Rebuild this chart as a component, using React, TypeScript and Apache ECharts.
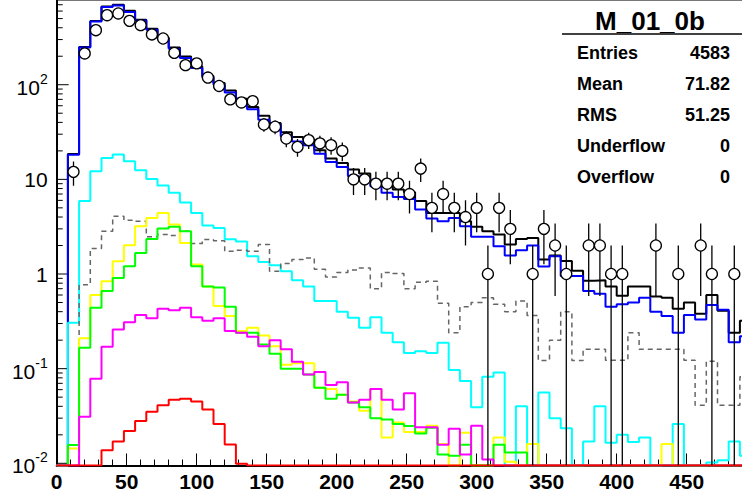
import React, { useEffect, useRef } from 'react';
import * as echarts from 'echarts';

// ---- histogram definition (bin width in x units) ----
const binWidth = 8;
const yMin = 0.00948;
const yMax = 776;
const xMin = 0;
const xMax = 500;

// ---- series values, one per bin (0 = empty bin) ----
const blackSum = [
  0, 18.5, 250, 470, 670, 700, 604, 485, 390, 316,
  248, 199, 156, 124, 104, 87, 71, 58, 47, 39.4,
  31.4, 28, 26.3, 20.3, 16.6, 14.9, 12.7, 11.5, 9.5, 9.3,
  7.8, 7.3, 5.9, 4.4, 4.4, 4.4, 3.6, 3.15, 2.83, 2.61,
  2.05, 2.35, 2.4, 1.42, 1.57, 1.37, 1.08, 0.85, 0.86, 0.74,
  0.59, 0.74, 0.74, 0.58, 0.56, 0.43, 0.5, 0.38, 0.6, 0.41,
  0.24, 0.32,
];
const blueMain = [
  0, 18.2, 248, 466, 661, 687, 585, 477, 380, 306,
  240, 191, 150, 120, 100, 83, 68, 55, 42.7, 37.9,
  28.5, 25.2, 22.9, 18.7, 15.3, 13.5, 10.8, 10.2, 8.45, 7.2,
  6.5, 6.2, 4.8, 3.85, 3.6, 3.9, 3.2, 2.47, 2.47, 1.96,
  1.57, 1.78, 2.0, 1.2, 1.54, 0.95, 0.95, 0.66, 0.62, 0.45,
  0.48, 0.5, 0.56, 0.4, 0.36, 0.24, 0.37, 0.33, 0.47, 0.42,
  0.19, 0.22,
];
const cyanBkg = [
  0, 0.305, 5.9, 12.2, 16.8, 18.3, 15.5, 12.5, 10.1, 8.6,
  7.2, 5.7, 4.4, 3.25, 3.07, 2.33, 2.2, 1.54, 1.34, 1.24,
  1.07, 0.86, 0.74, 0.52, 0.52, 0.4, 0.345, 0.27, 0.35, 0.24,
  0.19, 0.146, 0.153, 0.146, 0.188, 0.097, 0.074, 0.039, 0.082, 0.091,
  0, 0.04, 0, 0.056, 0.03, 0.0235, 0, 0.017, 0.04, 0.0165,
  0.02, 0.0168, 0.0187, 0, 0, 0.026, 0, 0, 0.0102, 0.0108,
  0.017, 0.012,
];
const dashedBkg = [
  0, 0, 0.77, 1.86, 2.83, 4.07, 3.7, 3.6, 2.47, 2.61,
  2.55, 2.83, 2.1, 2.31, 2.24, 1.74, 1.78, 1.74, 2.05, 1.07,
  1.29, 1.42, 1.48, 1.12, 0.93, 1.04, 1.1, 1.16, 0.7, 1.04,
  1.01, 0.7, 0.82, 0.84, 0.49, 0.24, 0.45, 0.5, 0.56, 0.48,
  0.4, 0.52, 0.365, 0.122, 0.2, 0.4, 0.122, 0.16, 0.16, 0.123,
  0.123, 0.24, 0.16, 0.16, 0.16, 0.16, 0.123, 0.041, 0.12, 0.041,
  0.041, 0.082,
];
const yellowBkg = [
  0, 0.0143, 0.21, 0.6, 0.84, 1.36, 2.01, 3.2, 3.9, 4.4,
  3.33, 2.13, 1.26, 0.74, 0.46, 0.36, 0.25, 0.27, 0.224, 0.173,
  0.11, 0.114, 0.114, 0.063, 0.061, 0.053, 0.045, 0.036, 0.061, 0.0187,
  0.027, 0.0214, 0.0214, 0.025, 0.016, 0, 0.021, 0, 0, 0.0187,
  0.0104, 0, 0.016, 0, 0, 0, 0, 0, 0, 0,
  0, 0, 0, 0, 0.016, 0, 0, 0, 0, 0,
  0, 0,
];
const greenBkg = [
  0, 0.0156, 0.166, 0.44, 0.66, 0.91, 1.21, 1.67, 2.35, 3.02,
  3.15, 2.83, 1.21, 0.74, 0.72, 0.45, 0.24, 0.24, 0.18, 0.144,
  0.1, 0.1, 0.087, 0.063, 0.048, 0.053, 0.044, 0.039, 0.03, 0.029,
  0.026, 0.0248, 0.0207, 0.0238, 0.0124, 0.012, 0.0157, 0, 0, 0.0157,
  0.013, 0.013, 0, 0, 0, 0, 0, 0, 0, 0,
  0, 0, 0, 0, 0, 0, 0, 0, 0, 0,
  0, 0,
];
const magentaBkg = [
  0, 0, 0.031, 0.078, 0.17, 0.26, 0.31, 0.37, 0.34, 0.43,
  0.415, 0.44, 0.35, 0.32, 0.34, 0.25, 0.24, 0.217, 0.173, 0.2,
  0.16, 0.118, 0.087, 0.092, 0.067, 0.072, 0.044, 0.047, 0.061, 0.047,
  0.037, 0.055, 0.024, 0.024, 0.0157, 0.0232, 0.0124, 0.025, 0.011, 0,
  0, 0, 0, 0, 0, 0, 0, 0, 0, 0,
  0, 0, 0, 0, 0, 0, 0, 0, 0, 0,
  0, 0,
];
const redBkg = [
  0, 0, 0, 0, 0.0137, 0.017, 0.022, 0.028, 0.035, 0.041,
  0.047, 0.048, 0.045, 0.037, 0.026, 0.0158, 0.0099, 0, 0, 0,
  0, 0, 0, 0, 0, 0, 0, 0, 0, 0,
  0, 0, 0, 0, 0, 0, 0, 0, 0, 0,
  0, 0, 0, 0, 0, 0, 0, 0, 0, 0,
  0, 0, 0, 0, 0, 0, 0, 0, 0, 0,
  0, 0,
];
const dataCounts = [
  0, 12, 214, 377, 543, 566, 473, 426, 340, 308,
  217, 161, 168, 119, 97, 70, 65, 67, 38, 36,
  27, 22, 26, 24, 23, 20, 10, 10, 9, 9,
  9, 7, 13, 5, 7, 5, 4, 5, 1, 5,
  3, 0, 1, 3, 2, 1, 0, 2, 2, 1,
  1, 0, 0, 2, 0, 1, 0, 2, 1, 0,
  1, 0,
];

// ---- texts ----
const statsTitle = 'M_01_0b';
const statsLabels = ['Entries', 'Mean', 'RMS', 'Underflow', 'Overflow'];
const statsValues = ['4583', '71.82', '51.25', '0', '0'];
const yDecades = [-2, -1, 0, 1, 2];

const FONT = "'Liberation Sans', Arial, Helvetica, sans-serif";

function stepPoints(vals: number[]) {
  const pts: number[][] = [];
  vals.forEach((v, i) => {
    const y = v > 0 ? v : yMin;
    pts.push([i * binWidth, y]);
    pts.push([(i + 1) * binWidth, y]);
  });
  return pts;
}

function histSeries(name: string, vals: number[], color: string, width: number, dashed?: boolean) {
  return {
    name,
    type: 'line',
    data: stepPoints(vals),
    showSymbol: false,
    symbol: 'none',
    clip: true,
    lineStyle: { color, width, type: dashed ? [5, 4] : 'solid' },
    emphasis: { disabled: true },
  };
}

export default function App() {
  const ref = useRef<HTMLDivElement>(null);
  useEffect(() => {
    if (!ref.current) return;
    const chart = echarts.init(ref.current, undefined, { renderer: 'svg' });

    const tickData: number[][] = [];
    for (let d = -2; d <= 2; d++) {
      for (let m = 1; m <= 9; m++) {
        const v = m * Math.pow(10, d);
        if (v >= yMin && v <= yMax) tickData.push([0, v, m === 1 ? 1 : 0]);
      }
    }

    const pointData: number[][] = [];
    const errData: number[][] = [];
    dataCounts.forEach((n, i) => {
      if (n > 0) {
        const xc = (i + 0.5) * binWidth;
        pointData.push([xc, n]);
        const e = Math.sqrt(n);
        errData.push([xc, Math.max(n - e, yMin), n + e]);
      }
    });

    const option: any = {
      animation: false,
      backgroundColor: '#ffffff',
      grid: {
        left: 56.7,
        right: -14.7,
        top: 0.5,
        bottom: 31.5,
        show: true,
        borderColor: '#777',
        borderWidth: 1,
        backgroundColor: 'transparent',
        containLabel: false,
        outerBoundsMode: 'none',
      },
      xAxis: {
        type: 'value',
        min: xMin,
        max: xMax,
        interval: 50,
        axisLine: { show: true, onZero: false, lineStyle: { color: '#000', width: 2 } },
        axisTick: { show: true, inside: true, length: 12, lineStyle: { color: '#000', width: 1 } },
        minorTick: { show: true, splitNumber: 5, length: 6, lineStyle: { color: '#000', width: 1 } },
        splitLine: { show: false },
        axisLabel: {
          color: '#000',
          fontFamily: FONT,
          fontWeight: 'bold',
          fontSize: 21,
          margin: 5,
          showMaxLabel: false,
        },
      },
      yAxis: {
        type: 'log',
        logBase: 10,
        min: yMin,
        max: yMax,
        axisLine: { show: true, lineStyle: { color: '#000', width: 2 } },
        axisTick: { show: false },
        splitLine: { show: false },
        axisLabel: {
          color: '#000',
          fontFamily: FONT,
          fontSize: 21,
          margin: 9,
          formatter: (v: number) => {
            const l = Math.round(Math.log10(v) * 1000) / 1000;
            if (!Number.isInteger(l) || yDecades.indexOf(l) < 0) return '';
            if (l === 0) return '1';
            if (l === 1) return '10';
            return '{b|10}{s|' + l + '}';
          },
          rich: {
            b: { fontSize: 21, fontFamily: FONT, color: '#000', lineHeight: 26, verticalAlign: 'bottom' },
            s: { fontSize: 14, fontFamily: FONT, color: '#000', lineHeight: 26, verticalAlign: 'top' },
          },
        },
      },
      series: [
        {
          type: 'custom',
          name: 'yticks',
          data: tickData,
          clip: false,
          silent: true,
          encode: { x: 0, y: 1 },
          renderItem: (params: any, api: any) => {
            const p = api.coord([0, api.value(1)]);
            const len = api.value(2) ? 12 : 6;
            return {
              type: 'line',
              shape: { x1: p[0], y1: p[1], x2: p[0] + len, y2: p[1] },
              style: { stroke: '#000', lineWidth: 1 },
            };
          },
          z: 1,
        },
        histSeries('sum', blackSum, '#000000', 2),
        histSeries('main', blueMain, '#0000ff', 2),
        histSeries('cyan', cyanBkg, '#00ffff', 2),
        histSeries('dashed', dashedBkg, '#666666', 1.5, true),
        histSeries('yellow', yellowBkg, '#ffff00', 2),
        histSeries('green', greenBkg, '#00ff00', 2),
        histSeries('magenta', magentaBkg, '#ff00ff', 2),
        histSeries('red', redBkg, '#ff0000', 2),
        {
          type: 'custom',
          name: 'errors',
          data: errData,
          clip: true,
          silent: true,
          encode: { x: 0, y: [1, 2] },
          renderItem: (params: any, api: any) => {
            const x = api.value(0);
            const a = api.coord([x, api.value(1)]);
            const b = api.coord([x, api.value(2)]);
            return {
              type: 'line',
              shape: { x1: a[0], y1: a[1], x2: b[0], y2: b[1] },
              style: { stroke: '#000', lineWidth: 1.3 },
            };
          },
          z: 5,
        },
        {
          type: 'scatter',
          name: 'data',
          data: pointData,
          symbol: 'circle',
          symbolSize: 11,
          itemStyle: { color: '#ffffff', borderColor: '#000000', borderWidth: 1.3, opacity: 1 },
          z: 6,
          silent: true,
        },
      ],
      graphic: [
        {
          type: 'rect',
          shape: { x: 562, y: 1, width: 180, height: 194 },
          style: { fill: '#ffffff' },
          z: 100,
        },
        {
          type: 'text',
          x: 650,
          y: 21,
          style: {
            text: statsTitle,
            fill: '#000',
            font: 'bold 26px ' + FONT,
            textAlign: 'center',
            textVerticalAlign: 'middle',
          },
          z: 101,
        },
        {
          type: 'line',
          shape: { x1: 562, y1: 34, x2: 742, y2: 34 },
          style: { stroke: '#000', lineWidth: 1.3 },
          z: 101,
        },
        ...statsLabels.map((t, i) => ({
          type: 'text',
          x: 577,
          y: 53 + i * 31,
          style: { text: t, fill: '#000', font: 'bold 18px ' + FONT, textAlign: 'left', textVerticalAlign: 'middle' },
          z: 101,
        })),
        ...statsValues.map((t, i) => ({
          type: 'text',
          x: 730,
          y: 53 + i * 31,
          style: { text: t, fill: '#000', font: 'bold 18px ' + FONT, textAlign: 'right', textVerticalAlign: 'middle' },
          z: 101,
        })),
      ],
    };
    chart.setOption(option);
    return () => chart.dispose();
  }, []);
  return (
    <div
      ref={ref}
      style={{ position: 'fixed', left: 0, top: 0, width: 742, height: 497, background: '#fff' }}
    />
  );
}
